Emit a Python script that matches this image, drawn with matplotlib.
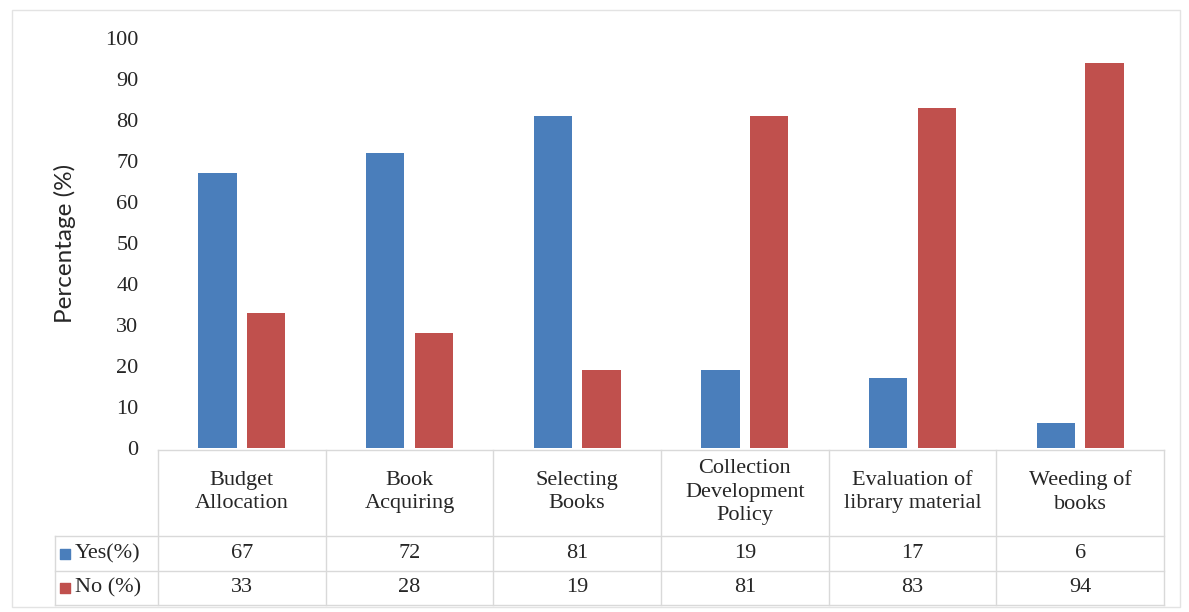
import numpy as np
import matplotlib
matplotlib.use('Agg')
import matplotlib.pyplot as plt
from matplotlib.patches import Rectangle

categories = ['Budget\nAllocation', 'Book\nAcquiring', 'Selecting\nBooks',
              'Collection\nDevelopment\nPolicy', 'Evaluation of\nlibrary material',
              'Weeding of\nbooks']
yes_pct = [67, 72, 81, 19, 17, 6]
no_pct = [33, 28, 19, 81, 83, 94]
series_names = ['Yes(%)', 'No (%)']
y_ticks = [0, 10, 20, 30, 40, 50, 60, 70, 80, 90, 100]

BLUE = '#4A7EBB'
RED = '#C0504D'
GRID = '#D9D9D9'
SERIF = 'Liberation Serif'
TXT = '#262626'
FS = 16

W, H = 1189, 612
fig = plt.figure(figsize=(W / 100, H / 100), dpi=100)
fig.patch.set_facecolor('white')

# outer chart border
fig.add_artist(Rectangle((12 / W, 1 - 607 / H), (1180 - 12) / W, (607 - 10) / H,
                         transform=fig.transFigure, fill=False,
                         edgecolor='#E3E3E3', linewidth=1))

# plot area
x0, x1 = 158, 1164
ytop, ybot = 38, 448
ax = fig.add_axes([x0 / W, 1 - ybot / H, (x1 - x0) / W, (ybot - ytop) / H])
x = np.arange(len(categories))
bw = 0.228
off = 0.145
ax.bar(x - off, yes_pct, bw, color=BLUE)
ax.bar(x + off, no_pct, bw, color=RED)
ax.set_xlim(-0.5, len(categories) - 0.5)
ax.set_ylim(0, 100)
ax.set_yticks(y_ticks)
ax.set_yticklabels([str(t) for t in y_ticks], family=SERIF, fontsize=FS, color=TXT)
ax.tick_params(axis='y', length=0, pad=14)
ax.set_xticks([])
for s in ax.spines.values():
    s.set_visible(False)
ax.set_ylabel('Percentage (%)', family='Lato', fontsize=17.5, labelpad=21, color=TXT)

# data table below
tl = 55
t_top, t_bot = 450, 605
tax = fig.add_axes([tl / W, 1 - t_bot / H, (x1 - tl) / W, (t_bot - t_top) / H])
colw = (x1 - x0) / len(categories)
lab_w = (x0 - tl) / colw
tax.set_xlim(-0.5 - lab_w, len(categories) - 0.5)
tax.set_ylim(t_bot, t_top)
tax.axis('off')
left = -0.5 - lab_w
r1, r2 = 536, 571
lk = dict(color=GRID, linewidth=1, clip_on=False)
tax.plot([-0.5, len(categories) - 0.5], [t_top, t_top], **lk)
for yy in (r1, r2, t_bot):
    tax.plot([left, len(categories) - 0.5], [yy, yy], **lk)
tax.plot([left, left], [r1, t_bot], **lk)
for i in range(len(categories) + 1):
    tax.plot([i - 0.5, i - 0.5], [t_top, t_bot], **lk)

for i, cat in enumerate(categories):
    tax.text(i, (t_top + r1) / 2 - 1, cat, ha='center', va='center', family=SERIF,
             fontsize=FS, linespacing=1.35, color=TXT)
    tax.text(i, (r1 + r2) / 2, str(yes_pct[i]), ha='center', va='center',
             family=SERIF, fontsize=FS, color=TXT)
    tax.text(i, (r2 + t_bot) / 2, str(no_pct[i]), ha='center', va='center',
             family=SERIF, fontsize=FS, color=TXT)

for (yy, name, col) in [((r1 + r2) / 2, series_names[0], BLUE),
                        ((r2 + t_bot) / 2, series_names[1], RED)]:
    tax.scatter([left + 0.06], [yy], marker='s', s=55, color=col, clip_on=False)
    tax.text(left + 0.12, yy, name, ha='left', va='center', family=SERIF,
             fontsize=FS, color=TXT)

fig.savefig('out.png', dpi=100)
